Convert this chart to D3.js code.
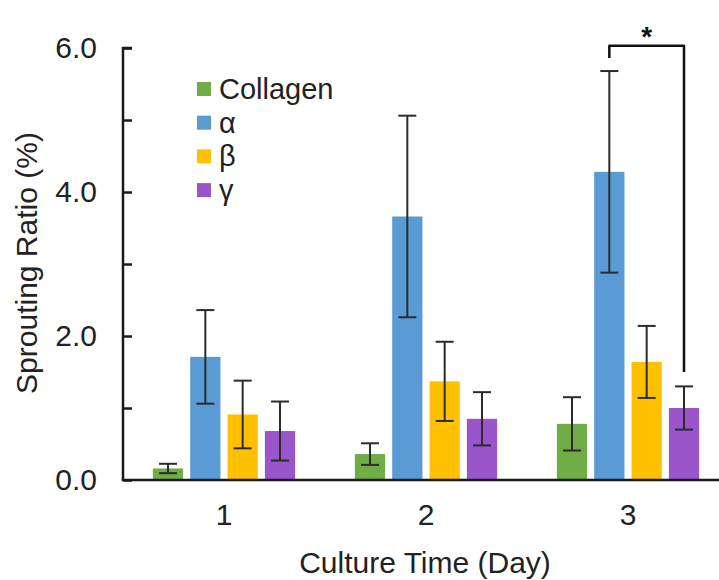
<!DOCTYPE html>
<html>
<head>
<meta charset="utf-8">
<script src="https://cdn.jsdelivr.net/npm/d3@7"></script>
<style>
  body { margin: 0; background: #fff; }
  svg { font-family: "Liberation Sans", Arial, sans-serif; }
</style>
</head>
<body>
<script>
// data
var days = ["1", "2", "3"];
var seriesNames = ["Collagen", "α", "β", "γ"];
var colors = ["#70AD47", "#5B9BD5", "#FFC000", "#9A55CB"];

var collagen = [0.16, 0.36, 0.78];
var collagenErr = [0.065, 0.15, 0.37];
var alpha = [1.71, 3.66, 4.28];
var alphaErr = [0.65, 1.40, 1.40];
var beta = [0.91, 1.37, 1.64];
var betaErr = [0.47, 0.55, 0.50];
var gamma = [0.68, 0.85, 1.00];
var gammaErr = [0.41, 0.37, 0.30];

var yTicks = [0, 1, 2, 3, 4, 5, 6];
var yLabelTicks = [0, 2, 4, 6];

// significance bracket on day 3: alpha vs gamma
var sigDay = "3";
var sigFrom = "α", sigTo = "γ";
var sigTop = 6.03, sigLeftEnd = 5.86, sigRightEnd = 1.50;

var values = [collagen, alpha, beta, gamma];
var errs = [collagenErr, alphaErr, betaErr, gammaErr];

var rows = [];
days.forEach(function(d, i) {
  seriesNames.forEach(function(s, j) {
    rows.push({day: d, name: s, value: values[j][i], err: errs[j][i], color: colors[j]});
  });
});

var w = 719, h = 580;
var svg = d3.select("body").append("svg").attr("width", w).attr("height", h);

var y = d3.scaleLinear().domain([0, 6]).range([480, 48]);
var x0 = d3.scaleBand().domain(days).range([123, 729]);
var x1 = d3.scaleBand().domain(seriesNames).range([0, x0.bandwidth()])
  .paddingInner(0.19).paddingOuter(0.8);

// bars
svg.append("g").selectAll("rect").data(rows).enter().append("rect")
  .attr("x", function(d) { return x0(d.day) + x1(d.name); })
  .attr("y", function(d) { return y(d.value); })
  .attr("width", x1.bandwidth())
  .attr("height", function(d) { return y(0) - y(d.value); })
  .attr("fill", function(d) { return d.color; });

// error bars
var eb = svg.append("g").attr("stroke", "#2b2b2b").attr("stroke-width", 2).attr("fill", "none");
rows.forEach(function(d) {
  var cx = x0(d.day) + x1(d.name) + x1.bandwidth() / 2;
  var yt = y(d.value + d.err), yb = y(d.value - d.err);
  eb.append("line").attr("x1", cx).attr("x2", cx).attr("y1", yt).attr("y2", yb);
  eb.append("line").attr("x1", cx - 9).attr("x2", cx + 9).attr("y1", yt).attr("y2", yt);
  eb.append("line").attr("x1", cx - 9).attr("x2", cx + 9).attr("y1", yb).attr("y2", yb);
});

// y axis
var yAxis = d3.axisLeft(y).tickValues(yTicks).tickSize(-9).tickPadding(26)
  .tickFormat(function(d) { return yLabelTicks.indexOf(d) >= 0 ? d3.format(".1f")(d) : ""; });
var gy = svg.append("g").attr("transform", "translate(123,0)").call(yAxis);
gy.select(".domain").attr("stroke", "#1a1a1a").attr("stroke-width", 2.5)
  .attr("d", "M9," + y(6) + "H0V" + y(0));
gy.selectAll(".tick line").attr("stroke", "#1a1a1a").attr("stroke-width", 2.5);
gy.selectAll(".tick text").attr("font-size", 30).attr("fill", "#222")
  .attr("font-family", "Liberation Sans, Arial, sans-serif");

// x axis
var xAxis = d3.axisBottom(x0).tickSize(0).tickPadding(24);
var gx = svg.append("g").attr("transform", "translate(0,480)").call(xAxis);
gx.select(".domain").attr("stroke", "#1a1a1a").attr("stroke-width", 2.5)
  .attr("d", "M121.75,0H719");
gx.selectAll(".tick text").attr("font-size", 30).attr("fill", "#222")
  .attr("font-family", "Liberation Sans, Arial, sans-serif");

// axis titles
svg.append("text").attr("x", 425).attr("y", 573).attr("text-anchor", "middle")
  .attr("font-size", 30).attr("fill", "#222").text("Culture Time (Day)");
svg.append("text").attr("transform", "translate(37,263) rotate(-90)").attr("text-anchor", "middle")
  .attr("font-size", 30).attr("fill", "#222").text("Sprouting Ratio (%)");

// legend
var leg = svg.append("g").selectAll("g").data(seriesNames).enter().append("g")
  .attr("transform", function(d, i) { return "translate(197," + (89 + i * 33.7) + ")"; });
leg.append("rect").attr("x", 0).attr("y", -7).attr("width", 14).attr("height", 14)
  .attr("fill", function(d, i) { return colors[i]; });
leg.append("text").attr("x", 22).attr("y", 10).attr("font-size", 29).attr("fill", "#222")
  .text(function(d) { return d; });

// significance bracket
var bx1 = x0(sigDay) + x1(sigFrom) + x1.bandwidth() / 2;
var bx2 = x0(sigDay) + x1(sigTo) + x1.bandwidth() / 2;
svg.append("path")
  .attr("d", "M" + bx1 + "," + y(sigLeftEnd) + "V" + y(sigTop) + "H" + bx2 + "V" + y(sigRightEnd))
  .attr("fill", "none").attr("stroke", "#111").attr("stroke-width", 2.5)
  .attr("stroke-linejoin", "round");
svg.append("text").attr("x", (bx1 + bx2) / 2).attr("y", 46).attr("text-anchor", "middle")
  .attr("font-size", 28).attr("font-weight", "bold").attr("fill", "#111").text("*");
</script>
</body>
</html>
